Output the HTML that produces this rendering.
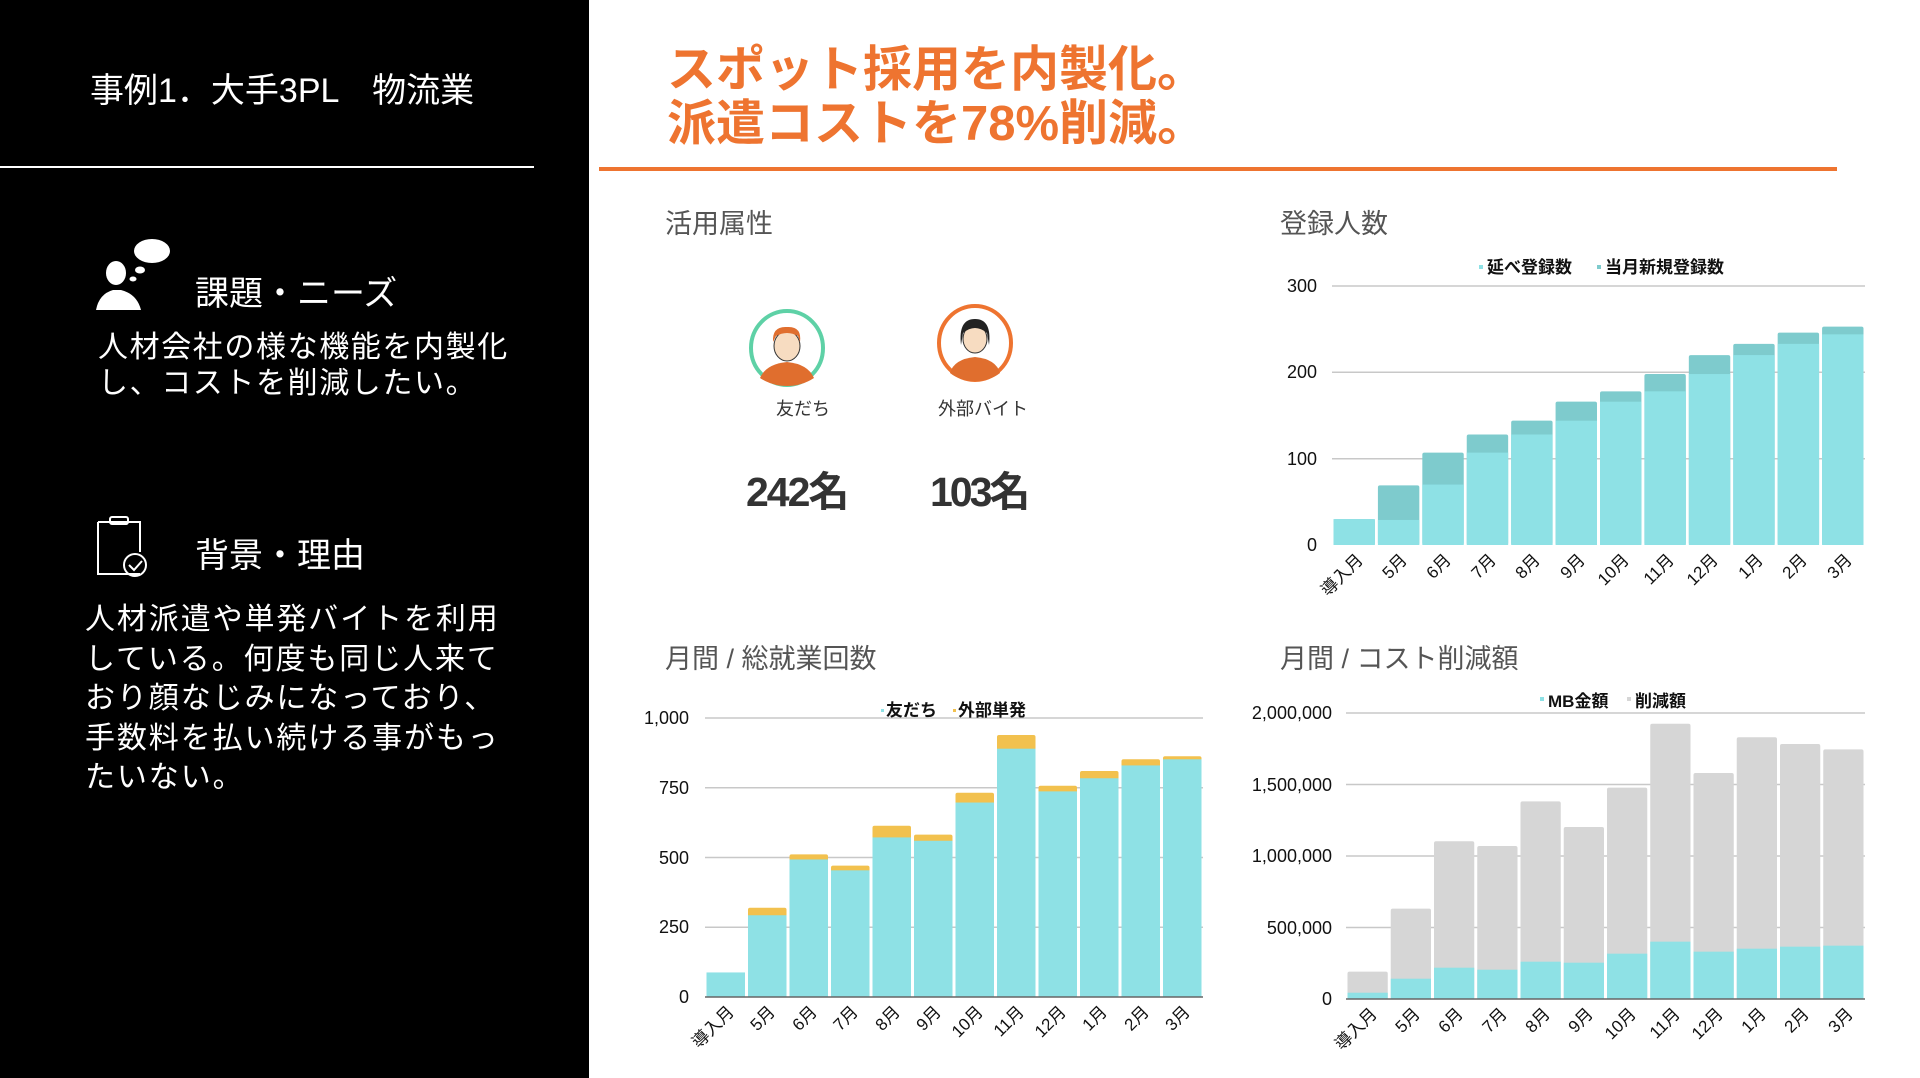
<!DOCTYPE html>
<html><head><meta charset="utf-8">
<style>
body{margin:0;width:1920px;height:1078px;overflow:hidden;background:#fff;font-family:"Liberation Sans","Noto Sans CJK JP",sans-serif;position:relative}
.abs{position:absolute;white-space:nowrap}
#left{position:absolute;left:0;top:0;width:589px;height:1078px;background:#000;color:#fff}
</style></head><body>
<div id="left">
  <div class="abs" style="left:90px;top:71px;font-size:34px;line-height:40px">事例1．大手3PL　物流業</div>
  <div class="abs" style="left:0;top:166px;width:534px;height:2px;background:#fff"></div>
  <svg class="abs" style="left:95px;top:238px" width="80" height="76" viewBox="0 0 80 76">
    <ellipse cx="57" cy="13" rx="18" ry="12" fill="#fff"/>
    <ellipse cx="45" cy="32" rx="5" ry="3.5" fill="#fff"/>
    <ellipse cx="38" cy="41" rx="3.5" ry="2.5" fill="#fff"/>
    <ellipse cx="21" cy="35" rx="10" ry="12" fill="#fff"/>
    <path d="M1 72 Q4 56 18 52 L26 52 Q42 56 46 72 Z" fill="#fff"/>
  </svg>
  <div class="abs" style="left:195px;top:274px;font-size:34px;line-height:40px">課題・ニーズ</div>
  <div class="abs" style="left:98px;top:330px;font-size:30px;line-height:36px;letter-spacing:1.6px">人材会社の様な機能を内製化<br>し、コストを削減したい。</div>
  <svg class="abs" style="left:96px;top:516px" width="56" height="62" viewBox="0 0 56 62">
    <path d="M2 6 H44 V36 M44 58 H2 Z" fill="none" stroke="#fff" stroke-width="2"/>
    <path d="M2 6 V58 H30" fill="none" stroke="#fff" stroke-width="2"/>
    <rect x="14" y="1" width="18" height="7" rx="2" fill="none" stroke="#fff" stroke-width="2"/>
    <circle cx="39" cy="49" r="11" fill="none" stroke="#fff" stroke-width="2"/>
    <path d="M33 49 L38 54 L46 45" fill="none" stroke="#fff" stroke-width="2"/>
  </svg>
  <div class="abs" style="left:195px;top:536px;font-size:34px;line-height:40px">背景・理由</div>
  <div class="abs" style="left:85px;top:600px;font-size:30px;line-height:39.5px;letter-spacing:1.9px">人材派遣や単発バイトを利用<br>している。何度も同じ人来て<br>おり顔なじみになっており、<br>手数料を払い続ける事がもっ<br>たいない。</div>
</div>

<div class="abs" style="left:667px;top:43px;font-size:49px;line-height:54px;font-weight:bold;color:#EE7430">スポット採用を内製化。<br>派遣コストを78%削減。</div>
<div class="abs" style="left:599px;top:167px;width:1238px;height:4px;background:#EE7430"></div>

<div class="abs" style="left:665px;top:208px;font-size:27px;line-height:32px;color:#555">活用属性</div>
<svg class="abs" style="left:740px;top:300px" width="100" height="100" viewBox="0 0 100 100">
  <ellipse cx="47" cy="48" rx="36" ry="37" fill="#fff" stroke="#5ED1A6" stroke-width="4"/>
  <path d="M20 78 Q26 64 47 62 Q68 64 74 78 Q62 86 47 86 Q32 86 20 78Z" fill="#E06E2E"/>
  <ellipse cx="47" cy="46" rx="13" ry="15" fill="#F7DCC1" stroke="#333" stroke-width="1"/>
  <path d="M33 42 Q32 26 47 27 Q62 26 60 42 L58 36 Q47 30 36 36Z" fill="#E06E2E"/>
</svg>
<svg class="abs" style="left:928px;top:295px" width="100" height="100" viewBox="0 0 100 100">
  <ellipse cx="47" cy="48" rx="36" ry="37" fill="#fff" stroke="#EE7430" stroke-width="4"/>
  <path d="M22 78 Q26 64 47 62 Q68 64 72 78 Q62 86 47 86 Q32 86 22 78Z" fill="#E06E2E"/>
  <ellipse cx="47" cy="44" rx="12" ry="14" fill="#F7DCC1" stroke="#333" stroke-width="1"/>
  <path d="M33 50 Q30 24 47 24 Q64 24 61 50 L59 38 Q47 28 35 38Z" fill="#222"/>
</svg>
<div class="abs" style="left:776px;top:395px;font-size:18px;color:#333">友だち</div>
<div class="abs" style="left:938px;top:395px;font-size:18px;color:#333">外部バイト</div>
<div class="abs" style="left:746px;top:458px;font-size:41px;font-weight:bold;color:#333;letter-spacing:-2px">242名</div>
<div class="abs" style="left:930px;top:458px;font-size:41px;font-weight:bold;color:#333;letter-spacing:-3px">103名</div>

<div class="abs" style="left:1280px;top:208px;font-size:27px;line-height:32px;color:#555">登録人数</div>
<div class="abs" style="left:665px;top:643px;font-size:27px;line-height:32px;color:#555">月間 / 総就業回数</div>
<div class="abs" style="left:1280px;top:643px;font-size:27px;line-height:32px;color:#555">月間 / コスト削減額</div>

<svg class="abs" style="left:0;top:0" width="1920" height="1078" font-family="Liberation Sans, Noto Sans CJK JP, sans-serif">
  <g stroke="#c8c8c8" stroke-width="1.5">
    <line x1="1332" x2="1865" y1="286" y2="286"/><line x1="1332" x2="1865" y1="372.3" y2="372.3"/><line x1="1332" x2="1865" y1="458.7" y2="458.7"/>
    <line x1="705" x2="1203" y1="718" y2="718"/><line x1="705" x2="1203" y1="787.8" y2="787.8"/><line x1="705" x2="1203" y1="857.5" y2="857.5"/><line x1="705" x2="1203" y1="927.3" y2="927.3"/>
    <line x1="1346" x2="1865" y1="713" y2="713"/><line x1="1346" x2="1865" y1="784.5" y2="784.5"/><line x1="1346" x2="1865" y1="856" y2="856"/><line x1="1346" x2="1865" y1="927.5" y2="927.5"/>
  </g>
  <g id="bars"></g>
  <g stroke="#666" stroke-width="1.5">
    <line x1="705" x2="1203" y1="997" y2="997"/><line x1="1346" x2="1865" y1="999" y2="999"/>
  </g>
  <g font-size="18" fill="#111" text-anchor="end">
    <text x="1317" y="292">300</text><text x="1317" y="378">200</text><text x="1317" y="465">100</text><text x="1317" y="551">0</text>
    <text x="689" y="724">1,000</text><text x="689" y="794">750</text><text x="689" y="864">500</text><text x="689" y="933">250</text><text x="689" y="1003">0</text>
    <text x="1332" y="719">2,000,000</text><text x="1332" y="791">1,500,000</text><text x="1332" y="862">1,000,000</text><text x="1332" y="934">500,000</text><text x="1332" y="1005">0</text>
  </g>
  <g font-size="17" font-weight="bold" fill="#111">
    <rect x="1479" y="265" width="4" height="4" fill="#8EE1E5"/><text x="1487" y="273">延べ登録数</text>
    <rect x="1597" y="265" width="4" height="4" fill="#7ECBCD"/><text x="1605" y="273">当月新規登録数</text>
    <rect x="881" y="709" width="3" height="3" fill="#8EE1E5"/><text x="886" y="716">友だち</text>
    <rect x="953" y="709" width="3" height="3" fill="#F2C14E"/><text x="958" y="716">外部単発</text>
    <rect x="1540" y="697" width="4" height="4" fill="#8EE1E5"/><text x="1548" y="707">MB金額</text>
    <rect x="1627" y="697" width="4" height="4" fill="#d6d6d6"/><text x="1635" y="707">削減額</text>
  </g>
  <g font-size="17" fill="#111" text-anchor="end">
    <text transform="translate(1364,561) rotate(-45)">導入月</text><text transform="translate(1408,561) rotate(-45)">5月</text><text transform="translate(1452,561) rotate(-45)">6月</text><text transform="translate(1497,561) rotate(-45)">7月</text><text transform="translate(1541,561) rotate(-45)">8月</text><text transform="translate(1586,561) rotate(-45)">9月</text><text transform="translate(1630,561) rotate(-45)">10月</text><text transform="translate(1675,561) rotate(-45)">11月</text><text transform="translate(1719,561) rotate(-45)">12月</text><text transform="translate(1764,561) rotate(-45)">1月</text><text transform="translate(1808,561) rotate(-45)">2月</text><text transform="translate(1853,561) rotate(-45)">3月</text>
  </g>
  <g font-size="17" fill="#111" text-anchor="end">
    <text transform="translate(735,1013) rotate(-45)">導入月</text><text transform="translate(776,1013) rotate(-45)">5月</text><text transform="translate(818,1013) rotate(-45)">6月</text><text transform="translate(859,1013) rotate(-45)">7月</text><text transform="translate(901,1013) rotate(-45)">8月</text><text transform="translate(942,1013) rotate(-45)">9月</text><text transform="translate(984,1013) rotate(-45)">10月</text><text transform="translate(1025,1013) rotate(-45)">11月</text><text transform="translate(1067,1013) rotate(-45)">12月</text><text transform="translate(1108,1013) rotate(-45)">1月</text><text transform="translate(1150,1013) rotate(-45)">2月</text><text transform="translate(1191,1013) rotate(-45)">3月</text>
  </g>
  <g font-size="17" fill="#111" text-anchor="end">
    <text transform="translate(1378,1015) rotate(-45)">導入月</text><text transform="translate(1421,1015) rotate(-45)">5月</text><text transform="translate(1464,1015) rotate(-45)">6月</text><text transform="translate(1508,1015) rotate(-45)">7月</text><text transform="translate(1551,1015) rotate(-45)">8月</text><text transform="translate(1594,1015) rotate(-45)">9月</text><text transform="translate(1637,1015) rotate(-45)">10月</text><text transform="translate(1681,1015) rotate(-45)">11月</text><text transform="translate(1724,1015) rotate(-45)">12月</text><text transform="translate(1767,1015) rotate(-45)">1月</text><text transform="translate(1810,1015) rotate(-45)">2月</text><text transform="translate(1854,1015) rotate(-45)">3月</text>
  </g>
</svg>
<script>
(function(){
var g=document.getElementById('bars'),s='';
function chart(x0,x1,y0,yTop,max,base,tot,cb,ct){
  var pitch=(x1-x0)/12,k=(y0-yTop)/max;
  for(var i=0;i<12;i++){
    var x=x0+i*pitch+1.5,w=pitch-3;
    var ht=tot[i]*k,hb=base[i]*k;
    s+='<rect x="'+x+'" y="'+(y0-ht)+'" width="'+w+'" height="'+ht+'" rx="2" fill="'+ct+'"/>';
    s+='<rect x="'+x+'" y="'+(y0-hb)+'" width="'+w+'" height="'+hb+'" fill="'+cb+'"/>';
  }
}
chart(1332,1865,545,286,300,[30,29,70,107,128,144,166,178,198,220,233,244],[30,69,107,128,144,166,178,198,220,233,246,253],'#8EE1E5','#7ECBCD');
chart(705,1203,997,718,1000,[88,293,493,454,572,560,697,890,737,784,830,852],[88,320,511,471,614,582,732,939,757,810,852,863],'#8EE1E5','#F2C14E');
chart(1346,1865,999,713,2000000,[44e3,142e3,219e3,205e3,261e3,254e3,317e3,401e3,331e3,352e3,366e3,373e3],[191e3,632e3,1103e3,1070e3,1382e3,1203e3,1478e3,1925e3,1580e3,1830e3,1783e3,1746e3],'#8EE1E5','#D6D6D6');
g.innerHTML=s;
})();
</script>
</body></html>
